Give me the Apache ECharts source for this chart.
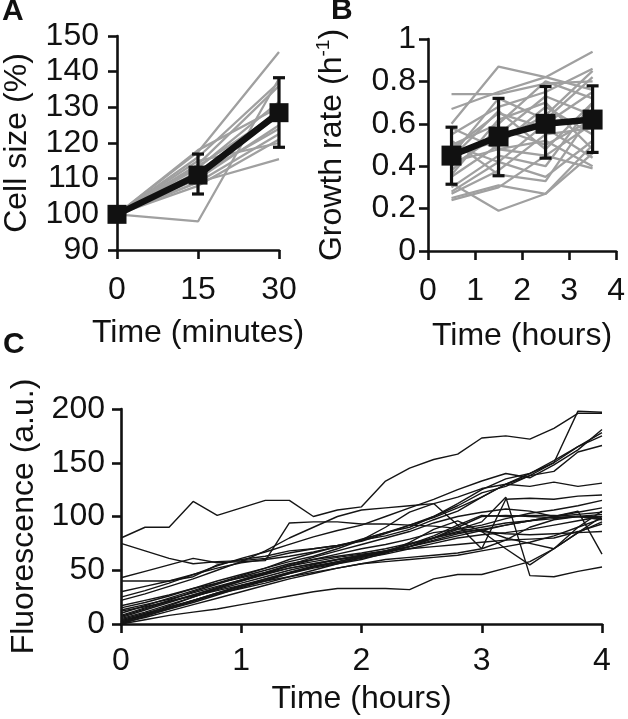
<!DOCTYPE html>
<html>
<head>
<meta charset="utf-8">
<script src="https://cdn.jsdelivr.net/npm/echarts@6/dist/echarts.min.js"></script>
<style>
html,body{margin:0;padding:0;background:#fff;}
#chart{width:628px;height:719px;}
</style>
</head>
<body>
<div id="chart"></div>
<script>
// ---------- Panel A: cell size ----------
const sizeTime = [0, 15, 30];
const sizeYTicks = [90, 100, 110, 120, 130, 140, 150];
const sizeCells = [
  [100, 117.5, 145.5],
  [100, 98, 138],
  [100, 116, 137],
  [100, 114, 136],
  [100, 113, 131.5],
  [100, 118, 130],
  [100, 112, 127.5],
  [100, 110, 125],
  [100, 111, 124],
  [100, 109, 122.5],
  [100, 115, 120],
  [100, 109, 115.5],
  [100, 113.5, 128.5],
  [100, 108, 121]
];
const sizeMean = [100, 111, 128.5];
const sizeErrLow = [null, 105.7, 118.8];
const sizeErrHigh = [null, 116.9, 138.3];

// ---------- Panel B: growth rate ----------
const rateTime = [0.5, 1.5, 2.5, 3.5];
const rateXTicks = [0, 1, 2, 3, 4];
const rateYTicks = [0, 0.2, 0.4, 0.6, 0.8, 1];
const rateCells = [
  [0.74, 0.74, 0.79, 0.80],
  [0.60, 0.87, 0.82, 0.76],
  [0.67, 0.75, 0.82, 0.94],
  [0.55, 0.68, 0.75, 0.86],
  [0.50, 0.60, 0.80, 0.72],
  [0.45, 0.72, 0.62, 0.82],
  [0.40, 0.55, 0.73, 0.64],
  [0.48, 0.65, 0.58, 0.44],
  [0.35, 0.50, 0.68, 0.55],
  [0.30, 0.45, 0.40, 0.70],
  [0.25, 0.31, 0.27, 0.46],
  [0.32, 0.19, 0.27, 0.50],
  [0.42, 0.48, 0.52, 0.40],
  [0.38, 0.58, 0.50, 0.62],
  [0.27, 0.38, 0.55, 0.58],
  [0.50, 0.42, 0.35, 0.52],
  [0.45, 0.52, 0.64, 0.85],
  [0.24, 0.30, 0.45, 0.39],
  [0.58, 0.48, 0.45, 0.60],
  [0.36, 0.62, 0.70, 0.48],
  [0.52, 0.36, 0.33, 0.65],
  [0.44, 0.66, 0.48, 0.70],
  [0.28, 0.42, 0.60, 0.75]
];
const rateMean = [0.45, 0.54, 0.60, 0.62];
const rateErrLow = [0.315, 0.355, 0.438, 0.465];
const rateErrHigh = [0.584, 0.72, 0.776, 0.779];

// ---------- Panel C: fluorescence ----------
const fluoTime = [0, 0.2, 0.4, 0.6, 0.8, 1, 1.2, 1.4, 1.6, 1.8, 2, 2.2, 2.4, 2.6, 2.8, 3, 3.2, 3.4, 3.6, 3.8, 4];
const fluoXTicks = [0, 1, 2, 3, 4];
const fluoYTicks = [0, 50, 100, 150, 200];
const fluoCells = [
  [80, 90, 90, 114, 101, 108, 115, 115, 100, 106, 109, 133, 145, 153, 158, 173, 175, 172, 182, 196, 196],
  [75, 68, 61, 56, 58, 59, 61, 66, 70, 73, 77, 84, 92, 100, 110, 122, 128, 138, 150, 165, 178],
  [43, 49, 55, 61, 57, 58, 59, 94, 95, 95, 93, 93, 92, 91, 89, 86, 84, 83, 84, 85, 86],
  [40, 40, 40, 44, 55, 60, 63, 68, 70, 73, 78, 82, 88, 97, 105, 118, 130, 140, 152, 165, 175],
  [30, 35, 40, 46, 52, 57, 60, 63, 67, 72, 79, 85, 92, 99, 108, 118, 130, 138, 142, 160, 166],
  [25, 31, 38, 46, 54, 61, 67, 74, 81, 87, 92, 100, 108, 116, 125, 133, 140, 136, 148, 162, 181],
  [10, 17, 24, 31, 38, 45, 52, 60, 66, 72, 78, 85, 90, 100, 112, 125, 135, 140, 150, 198, 197],
  [22, 28, 35, 42, 50, 58, 68, 80, 90, 100, 106, 108, 110, 112, 118, 126, 130, 128, 132, 128, 131],
  [15, 20, 26, 33, 40, 46, 52, 58, 63, 70, 78, 90, 104, 112, 92, 70, 116, 117, 116, 119, 120],
  [7, 14, 21, 27, 33, 40, 47, 54, 60, 65, 70, 74, 79, 85, 88, 92, 98, 103, 106, 110, 115],
  [5, 11, 18, 25, 32, 38, 44, 50, 55, 60, 64, 68, 72, 78, 84, 88, 92, 96, 100, 104, 108],
  [3, 9, 15, 22, 29, 36, 42, 48, 54, 58, 62, 66, 72, 80, 88, 95, 118, 45, 44, 49, 53],
  [2, 8, 14, 20, 27, 34, 40, 47, 53, 58, 63, 67, 72, 77, 82, 87, 92, 96, 100, 105, 65],
  [0, 4, 8, 11, 14, 18, 22, 26, 30, 33, 33, 33, 32, 42, 46, 46, 52, 58, 70, 85, 100],
  [1, 6, 12, 18, 24, 30, 36, 42, 47, 52, 56, 58, 60, 62, 64, 68, 72, 76, 82, 90, 98],
  [0, 7, 14, 21, 28, 35, 42, 48, 53, 57, 61, 65, 70, 75, 80, 83, 85, 88, 92, 96, 100],
  [12, 16, 21, 26, 31, 36, 40, 44, 48, 52, 56, 60, 62, 64, 66, 70, 78, 90, 97, 100, 102],
  [2, 9, 17, 25, 33, 40, 46, 52, 56, 60, 63, 67, 72, 80, 90, 100, 101, 100, 99, 100, 100],
  [8, 15, 22, 30, 37, 44, 50, 56, 60, 63, 66, 70, 75, 80, 85, 88, 80, 75, 70, 85, 95],
  [4, 10, 16, 22, 28, 33, 38, 44, 50, 56, 62, 68, 74, 82, 92, 101, 100, 101, 101, 100, 98],
  [17, 22, 27, 33, 38, 43, 48, 54, 58, 62, 65, 68, 70, 72, 74, 76, 78, 79, 80, 86, 93],
  [1, 8, 15, 22, 29, 35, 41, 47, 52, 56, 60, 66, 76, 88, 96, 86, 70, 55, 70, 90, 105],
  [6, 13, 20, 27, 34, 41, 48, 55, 62, 68, 74, 80, 86, 94, 100, 104, 107, 105, 100, 102, 104],
  [13, 18, 23, 29, 35, 41, 47, 52, 56, 60, 64, 68, 74, 80, 86, 90, 94, 96, 98, 100, 97]
];

// ---------- build chart ----------
const FONT = '"Liberation Sans", Arial, Helvetica, sans-serif';
const INK = '#111111';
const GRAY = '#a0a0a0';
const FS = 32;

function pairs(xs, ys) { return xs.map((x, i) => [x, ys[i]]); }
function errData(xs, lo, hi) {
  const out = [];
  xs.forEach((x, i) => { if (lo[i] != null) out.push([x, lo[i], hi[i]]); });
  return out;
}
function labelStyle(margin) {
  return { fontSize: FS, color: INK, fontFamily: FONT, margin: margin };
}
function axisBase(ticks, extra) {
  return Object.assign({
    type: 'value',
    min: ticks[0],
    max: ticks[ticks.length - 1],
    interval: ticks[1] - ticks[0],
    axisLine: { show: true, onZero: false, lineStyle: { color: INK, width: 2.6 } },
    axisTick: { show: true, inside: false, length: 9, lineStyle: { color: INK, width: 2.6 } },
    splitLine: { show: false },
    axisLabel: labelStyle(20),
    nameLocation: 'middle',
    nameTextStyle: { fontSize: FS, color: INK, fontFamily: FONT }
  }, extra);
}
function errorSeries(xi, data, capHalf) {
  return {
    type: 'custom', xAxisIndex: xi, yAxisIndex: xi, z: 4, silent: true,
    data: data,
    renderItem: function (params, api) {
      const x = api.value(0);
      const pLo = api.coord([x, api.value(1)]);
      const pHi = api.coord([x, api.value(2)]);
      const st = { stroke: INK, lineWidth: 3.2 };
      return {
        type: 'group',
        children: [
          { type: 'line', shape: { x1: pLo[0], y1: pLo[1], x2: pHi[0], y2: pHi[1] }, style: st },
          { type: 'line', shape: { x1: pLo[0] - capHalf, y1: pLo[1], x2: pLo[0] + capHalf, y2: pLo[1] }, style: st },
          { type: 'line', shape: { x1: pHi[0] - capHalf, y1: pHi[1], x2: pHi[0] + capHalf, y2: pHi[1] }, style: st }
        ]
      };
    }
  };
}

const series = [];
sizeCells.forEach(c => series.push({
  type: 'line', xAxisIndex: 0, yAxisIndex: 0, data: pairs(sizeTime, c), showSymbol: false, silent: true,
  lineStyle: { color: GRAY, width: 2.3 }, z: 2
}));
series.push(errorSeries(0, errData(sizeTime, sizeErrLow, sizeErrHigh), 6));
series.push({
  type: 'line', xAxisIndex: 0, yAxisIndex: 0, data: pairs(sizeTime, sizeMean), symbol: 'rect', symbolSize: 19,
  showSymbol: true, silent: true, lineStyle: { color: INK, width: 6.5 }, itemStyle: { color: INK }, z: 5
});

rateCells.forEach(c => series.push({
  type: 'line', xAxisIndex: 1, yAxisIndex: 1, data: pairs(rateTime, c), showSymbol: false, silent: true,
  lineStyle: { color: GRAY, width: 2.3 }, z: 2
}));
series.push(errorSeries(1, errData(rateTime, rateErrLow, rateErrHigh), 6));
series.push({
  type: 'line', xAxisIndex: 1, yAxisIndex: 1, data: pairs(rateTime, rateMean), symbol: 'rect', symbolSize: 20,
  showSymbol: true, silent: true, lineStyle: { color: INK, width: 6.5 }, itemStyle: { color: INK }, z: 5
});

fluoCells.forEach(c => series.push({
  type: 'line', xAxisIndex: 2, yAxisIndex: 2, data: pairs(fluoTime, c), showSymbol: false, silent: true,
  lineStyle: { color: '#151515', width: 1.4 }, z: 2
}));

const option = {
  animation: false,
  backgroundColor: '#ffffff',
  textStyle: { fontFamily: FONT },
  grid: [
    { left: 116, top: 36, width: 163, height: 214 },
    { left: 428, top: 39, width: 192, height: 212 },
    { left: 115, top: 409, width: 487, height: 215 }
  ],
  xAxis: [
    axisBase(sizeTime, { gridIndex: 0, name: 'Time (minutes)', nameGap: 67, axisLabel: labelStyle(24) }),
    axisBase(rateXTicks, { gridIndex: 1, name: 'Time (hours)', nameGap: 69, axisLabel: labelStyle(24) }),
    axisBase(fluoXTicks, { gridIndex: 2, name: 'Time (hours)', nameGap: 59, axisLabel: labelStyle(21) })
  ],
  yAxis: [
    axisBase(sizeYTicks, { gridIndex: 0, name: 'Cell size (%)', nameGap: 84, axisLabel: labelStyle(18) }),
    axisBase(rateYTicks, {
      gridIndex: 1, name: 'Growth rate (h{sup|-1})', nameGap: 78,
      axisLabel: labelStyle(12),
      nameTextStyle: {
        fontSize: FS, color: INK, fontFamily: FONT, lineHeight: 36,
        rich: { sup: { fontSize: 19, color: INK, fontFamily: FONT, verticalAlign: 'top', lineHeight: 36 } }
      }
    }),
    axisBase(fluoYTicks, { gridIndex: 2, name: 'Fluorescence (a.u.)', nameGap: 81, axisLabel: labelStyle(16) })
  ],
  graphic: [
    { type: 'text', left: 2, top: -3, style: { text: 'A', font: 'bold 30px "Liberation Sans", Arial, sans-serif', fill: INK } },
    { type: 'text', left: 331, top: -4, style: { text: 'B', font: 'bold 30px "Liberation Sans", Arial, sans-serif', fill: INK } },
    { type: 'text', left: 3, top: 330, style: { text: 'C', font: 'bold 30px "Liberation Sans", Arial, sans-serif', fill: INK } }
  ],
  series: series
};

const chart = echarts.init(document.getElementById('chart'), null, { renderer: 'canvas' });
chart.setOption(option);
</script>
</body>
</html>
